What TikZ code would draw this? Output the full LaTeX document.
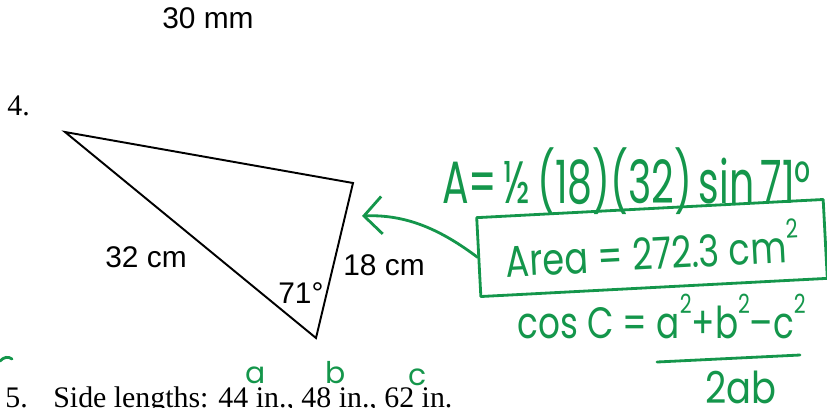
\documentclass[tikz,border=0pt]{standalone}
\usepackage{fontspec}
\setmainfont{Liberation Serif}
\setsansfont{Liberation Sans}
\newfontfamily\handfont{Poppins}
\usetikzlibrary{arrows.meta}
\definecolor{ink}{RGB}{20,150,75}
\newcommand{\sqr}{\raisebox{.55em}{\fontsize{15}{15}\selectfont 2}}
\begin{document}
\begin{tikzpicture}[x=0.02cm,y=-0.02cm,
  printed/.style={font=\sffamily\fontsize{17}{20}\selectfont,inner sep=0pt,anchor=base west},
  book/.style={font=\rmfamily\fontsize{17}{20}\selectfont,inner sep=0pt,anchor=base west},
  hand/.style={text=ink,inner sep=0pt,anchor=base west},
  pen/.style={draw=ink,line width=1.6pt,line cap=round,line join=round}]
\useasboundingbox (0,0) rectangle (827,407);
\clip (0,0) rectangle (827,407);
\node[printed] (top) at (162,28) {30 mm};
\node[book] (num4) at (7,115) {4.};
% triangle
\coordinate (P) at (65,132);
\coordinate (Q) at (353,183);
\coordinate (R) at (316,338);
\draw[line width=1.1pt] (P) -- (Q) -- (R) -- cycle;
\node[printed] (long) at (105,267) {32 cm};
\node[printed] (short) at (343,275) {18 cm};
\node[printed] (ang) at (278,303) {71°};
% next problem
\node[book] (num5) at (5,407) {5.};
\node[book] (sides) at (53,407) {Side lengths: 44 in., 48 in., 62 in.};
% handwriting
\node[hand,font=\handfont\fontsize{34}{40}\selectfont] (formula) at (442,203)
  {\scalebox{0.66}[1]{A=\,½\,(18)(32)\,sin\,71°}};
\node[pen,text=ink,rotate=3,minimum width=6.94cm,minimum height=1.58cm,
  font=\handfont\fontsize{25}{28}\selectfont] (area) at (652,248)
  {\scalebox{0.8}[1]{Area = 272.3 cm\sqr}};
\coordinate (tip) at (362,216);
\draw[pen,-{Straight Barb[length=0.36cm,width=0.75cm]}] (area.west)
  .. controls (445,233) and (410,214) .. (tip);
\node[hand,font=\handfont\fontsize{25}{28}\selectfont] (cosC) at (517,338)
  {\scalebox{0.78}[1]{cos C = a\sqr+b\sqr–c\sqr}};
\coordinate (barL) at (657,362);
\coordinate (barR) at (800,355);
\draw[pen] (barL) -- (barR);
\node[hand,font=\handfont\fontsize{25}{28}\selectfont] (denom) at (705,403)
  {\scalebox{0.84}[1]{2ab}};
\node[hand,font=\handfont\fontsize{17}{20}\selectfont] (la) at (245,383) {a};
\node[hand,font=\handfont\fontsize{17}{20}\selectfont] (lb) at (325,383) {b};
\node[hand,font=\handfont\fontsize{17}{20}\selectfont] (lc) at (408,385) {c};
\draw[pen] (0,361) .. controls (4,357) and (8,356) .. (12,359);
\end{tikzpicture}
\end{document}
